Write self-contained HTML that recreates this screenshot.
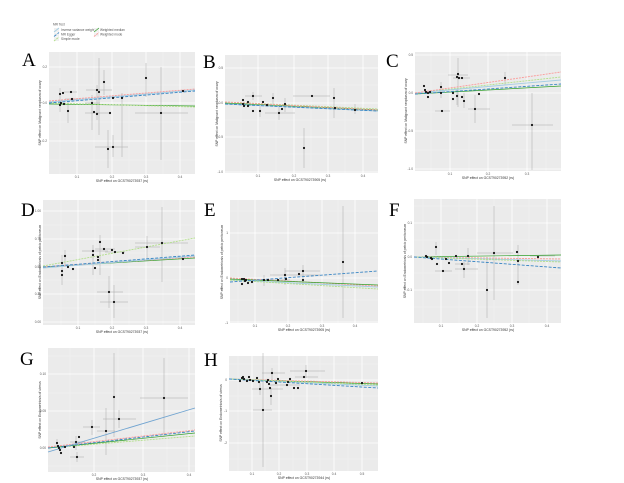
<!DOCTYPE html>
<html><head><meta charset="utf-8"><style>
html,body{margin:0;padding:0;background:#fff;}
svg{display:block;}
.bg{fill:#ebebeb;}
.gM{stroke:#fff;stroke-width:0.8;}
.gm{stroke:#f5f5f5;stroke-width:0.4;}
.eb{stroke:#a8a8a8;stroke-width:0.5;}
.pt{fill:#111;}
.tk{font-family:"Liberation Sans",sans-serif;font-size:3.2px;fill:#555;}
.tt{font-family:"Liberation Sans",sans-serif;font-size:3.4px;fill:#333;}
.lt{font-family:"Liberation Serif",serif;font-size:19px;fill:#000;}
.ivw{stroke:#a6cee3;stroke-width:0.9;fill:none;}
.egg{stroke:#3a86c4;stroke-width:0.9;stroke-dasharray:3,1.5;fill:none;}
.sim{stroke:#b2df8a;stroke-width:0.9;fill:none;stroke-dasharray:2,1;}
.wmed{stroke:#33a02c;stroke-width:0.7;fill:none;}
.wmo{stroke:#fb9a99;stroke-width:0.9;stroke-dasharray:2,1;fill:none;}
</style></head><body>
<svg width="624" height="483" viewBox="0 0 624 483" xmlns="http://www.w3.org/2000/svg">
<rect width="624" height="483" fill="#fff"/>

<!-- Legend -->
<text class="tk" x="53" y="25.5">MR Test</text>
<rect x="54" y="28" width="5" height="4" fill="#f0f0f0"/><line class="ivw" x1="54" y1="32" x2="59" y2="28"/>
<text class="tk" x="61" y="31">Inverse variance weighted</text>
<rect x="54" y="32.5" width="5" height="4" fill="#f0f0f0"/><line class="egg" x1="54" y1="36.5" x2="59" y2="32.5"/>
<text class="tk" x="61" y="35.5">MR Egger</text>
<rect x="54" y="37" width="5" height="4" fill="#f0f0f0"/><line class="sim" x1="54" y1="41" x2="59" y2="37"/>
<text class="tk" x="61" y="40">Simple mode</text>
<rect x="94" y="28" width="5" height="4" fill="#f0f0f0"/><line class="wmed" x1="94" y1="32" x2="99" y2="28"/>
<text class="tk" x="100" y="31">Weighted median</text>
<rect x="94" y="32.5" width="5" height="4" fill="#f0f0f0"/><line class="wmo" x1="94" y1="36.5" x2="99" y2="32.5"/>
<text class="tk" x="100" y="35.5">Weighted mode</text>

<!-- Panel A -->
<text class="lt" x="22" y="66">A</text>
<rect class="bg" x="49" y="52" width="146" height="122"/>
<g class="gm"><line x1="60" y1="52" x2="60" y2="174"/><line x1="94" y1="52" x2="94" y2="174"/><line x1="129" y1="52" x2="129" y2="174"/><line x1="163" y1="52" x2="163" y2="174"/>
<line x1="49" y1="85" x2="195" y2="85"/><line x1="49" y1="122" x2="195" y2="122"/><line x1="49" y1="160" x2="195" y2="160"/></g>
<g class="gM"><line x1="77" y1="52" x2="77" y2="174"/><line x1="112" y1="52" x2="112" y2="174"/><line x1="146" y1="52" x2="146" y2="174"/><line x1="180" y1="52" x2="180" y2="174"/>
<line x1="49" y1="67" x2="195" y2="67"/><line x1="49" y1="103" x2="195" y2="103"/><line x1="49" y1="141" x2="195" y2="141"/></g>
<g class="eb"><line x1="99" y1="58" x2="99" y2="135"/><line x1="104" y1="70" x2="104" y2="95"/><line x1="146" y1="63" x2="146" y2="97"/><line x1="161" y1="67" x2="161" y2="160"/><line x1="108" y1="130" x2="108" y2="168"/><line x1="122" y1="93" x2="122" y2="157"/><line x1="60" y1="88" x2="60" y2="112"/><line x1="68" y1="100" x2="68" y2="123"/><line x1="97" y1="85" x2="97" y2="120"/><line x1="92" y1="95" x2="92" y2="130"/><line x1="113" y1="135" x2="113" y2="157"/>
<line x1="135" y1="113" x2="188" y2="113"/><line x1="86" y1="90" x2="112" y2="90"/><line x1="64" y1="92" x2="77" y2="92"/><line x1="65" y1="99" x2="80" y2="99"/><line x1="95" y1="147" x2="128" y2="147"/><line x1="85" y1="103" x2="100" y2="103"/><line x1="85" y1="113" x2="110" y2="113"/><line x1="178" y1="91" x2="190" y2="91"/></g>
<line class="wmed" x1="49" y1="104" x2="195" y2="106"/><line class="sim" x1="49" y1="103" x2="195" y2="107"/>
<line class="ivw" x1="49" y1="102" x2="195" y2="90"/><line class="egg" x1="49" y1="103" x2="195" y2="91"/><line class="wmo" x1="49" y1="101" x2="195" y2="89"/>
<g class="pt"><circle cx="60" cy="94" r="1.1"/><circle cx="61" cy="103" r="1.1"/><circle cx="60" cy="105" r="1.1"/><circle cx="63" cy="93" r="1.1"/><circle cx="64" cy="104" r="1.1"/><circle cx="71" cy="92" r="1.1"/><circle cx="72" cy="99" r="1.1"/><circle cx="68" cy="111" r="1.1"/><circle cx="92" cy="103" r="1.1"/><circle cx="97" cy="90" r="1.1"/><circle cx="99" cy="92" r="1.1"/><circle cx="104" cy="82" r="1.1"/><circle cx="94" cy="112" r="1.1"/><circle cx="97" cy="114" r="1.1"/><circle cx="110" cy="113" r="1.1"/><circle cx="113" cy="98" r="1.1"/><circle cx="122" cy="98" r="1.1"/><circle cx="146" cy="78" r="1.1"/><circle cx="161" cy="113" r="1.1"/><circle cx="183" cy="91" r="1.1"/><circle cx="108" cy="149" r="1.1"/><circle cx="113" cy="147" r="1.1"/></g>
<text class="tk" x="47" y="68" text-anchor="end">0.2</text><text class="tk" x="47" y="104" text-anchor="end">0.0</text><text class="tk" x="47" y="142" text-anchor="end">-0.2</text>
<text class="tk" x="77" y="178" text-anchor="middle">0.1</text><text class="tk" x="112" y="178" text-anchor="middle">0.2</text><text class="tk" x="146" y="178" text-anchor="middle">0.3</text><text class="tk" x="180" y="178" text-anchor="middle">0.4</text>
<text class="tt" x="122" y="182" text-anchor="middle">SNP effect on GCST90273937 (rs)</text>
<text class="tt" transform="translate(41,113) rotate(-90)" text-anchor="middle">SNP effect on Malignant neoplasm of ovary</text>

<!-- Panel B -->
<text class="lt" x="203" y="68">B</text>
<rect class="bg" x="225" y="55" width="153" height="118"/>
<g class="gm"><line x1="241" y1="55" x2="241" y2="173"/><line x1="276" y1="55" x2="276" y2="173"/><line x1="311" y1="55" x2="311" y2="173"/><line x1="345" y1="55" x2="345" y2="173"/>
<line x1="225" y1="85" x2="378" y2="85"/><line x1="225" y1="120" x2="378" y2="120"/><line x1="225" y1="154" x2="378" y2="154"/></g>
<g class="gM"><line x1="258" y1="55" x2="258" y2="173"/><line x1="294" y1="55" x2="294" y2="173"/><line x1="328" y1="55" x2="328" y2="173"/><line x1="363" y1="55" x2="363" y2="173"/>
<line x1="225" y1="68" x2="378" y2="68"/><line x1="225" y1="103" x2="378" y2="103"/><line x1="225" y1="137" x2="378" y2="137"/><line x1="225" y1="172" x2="378" y2="172"/></g>
<g class="eb"><line x1="304" y1="128" x2="304" y2="168"/><line x1="334" y1="88" x2="334" y2="118"/><line x1="279" y1="105" x2="279" y2="120"/><line x1="253" y1="92" x2="253" y2="100"/><line x1="260" y1="105" x2="260" y2="117"/><line x1="285" y1="98" x2="285" y2="112"/><line x1="273" y1="93" x2="273" y2="104"/><line x1="355" y1="104" x2="355" y2="114"/>
<line x1="293" y1="96" x2="330" y2="96"/><line x1="265" y1="113" x2="295" y2="113"/><line x1="245" y1="96" x2="262" y2="96"/><line x1="325" y1="108" x2="345" y2="108"/></g>
<line class="wmed" x1="225" y1="103" x2="378" y2="110"/><line class="sim" x1="225" y1="102" x2="378" y2="109"/><line class="ivw" x1="225" y1="104" x2="378" y2="111"/><line class="wmo" x1="225" y1="102" x2="378" y2="110"/><line class="egg" x1="225" y1="104" x2="378" y2="111"/>
<g class="pt"><circle cx="243" cy="100" r="1.1"/><circle cx="243" cy="104" r="1.1"/><circle cx="244" cy="106" r="1.1"/><circle cx="248" cy="102" r="1.1"/><circle cx="248" cy="106" r="1.1"/><circle cx="253" cy="96" r="1.1"/><circle cx="253" cy="111" r="1.1"/><circle cx="260" cy="111" r="1.1"/><circle cx="263" cy="102" r="1.1"/><circle cx="267" cy="105" r="1.1"/><circle cx="273" cy="98" r="1.1"/><circle cx="282" cy="109" r="1.1"/><circle cx="279" cy="113" r="1.1"/><circle cx="285" cy="104" r="1.1"/><circle cx="312" cy="96" r="1.1"/><circle cx="334" cy="98" r="1.1"/><circle cx="335" cy="108" r="1.1"/><circle cx="355" cy="110" r="1.1"/><circle cx="304" cy="148" r="1.1"/></g>
<text class="tk" x="223" y="69" text-anchor="end">0.5</text><text class="tk" x="223" y="104" text-anchor="end">0.0</text><text class="tk" x="223" y="138" text-anchor="end">-0.5</text><text class="tk" x="223" y="173" text-anchor="end">-1.0</text>
<text class="tk" x="258" y="177" text-anchor="middle">0.1</text><text class="tk" x="294" y="177" text-anchor="middle">0.2</text><text class="tk" x="328" y="177" text-anchor="middle">0.3</text><text class="tk" x="363" y="177" text-anchor="middle">0.4</text>
<text class="tt" x="300" y="181" text-anchor="middle">SNP effect on GCST90273905 (rs)</text>
<text class="tt" transform="translate(218,114) rotate(-90)" text-anchor="middle">SNP effect on Malignant neoplasm of ovary</text>

<!-- Panel C -->
<text class="lt" x="386" y="67">C</text>
<rect class="bg" x="415" y="52" width="146" height="119"/>
<g class="gm"><line x1="431" y1="52" x2="431" y2="171"/><line x1="469" y1="52" x2="469" y2="171"/><line x1="508" y1="52" x2="508" y2="171"/><line x1="546" y1="52" x2="546" y2="171"/>
<line x1="415" y1="74" x2="561" y2="74"/><line x1="415" y1="112" x2="561" y2="112"/><line x1="415" y1="150" x2="561" y2="150"/></g>
<g class="gM"><line x1="450" y1="52" x2="450" y2="171"/><line x1="488" y1="52" x2="488" y2="171"/><line x1="527" y1="52" x2="527" y2="171"/>
<line x1="415" y1="55" x2="561" y2="55"/><line x1="415" y1="93" x2="561" y2="93"/><line x1="415" y1="131" x2="561" y2="131"/><line x1="415" y1="169" x2="561" y2="169"/></g>
<g class="eb"><line x1="458" y1="58" x2="458" y2="107"/><line x1="475" y1="95" x2="475" y2="123"/><line x1="532" y1="93" x2="532" y2="170"/><line x1="441" y1="82" x2="441" y2="98"/><line x1="505" y1="72" x2="505" y2="85"/><line x1="457" y1="88" x2="457" y2="105"/><line x1="464" y1="93" x2="464" y2="108"/>
<line x1="448" y1="75" x2="468" y2="75"/><line x1="512" y1="125" x2="553" y2="125"/><line x1="468" y1="109" x2="490" y2="109"/><line x1="435" y1="111" x2="450" y2="111"/><line x1="453" y1="78" x2="470" y2="78"/></g>
<line class="sim" x1="415" y1="93" x2="561" y2="77"/><line class="wmed" x1="415" y1="94" x2="561" y2="86"/><line class="ivw" x1="415" y1="93" x2="561" y2="80"/><line class="egg" x1="415" y1="94" x2="561" y2="84"/><line class="wmo" x1="415" y1="93" x2="561" y2="72"/>
<g class="pt"><circle cx="424" cy="86" r="1.1"/><circle cx="425" cy="90" r="1.1"/><circle cx="426" cy="92" r="1.1"/><circle cx="428" cy="93" r="1.1"/><circle cx="428" cy="97" r="1.1"/><circle cx="430" cy="92" r="1.1"/><circle cx="441" cy="93" r="1.1"/><circle cx="441" cy="87" r="1.1"/><circle cx="442" cy="111" r="1.1"/><circle cx="453" cy="93" r="1.1"/><circle cx="453" cy="99" r="1.1"/><circle cx="457" cy="77" r="1.1"/><circle cx="458" cy="74" r="1.1"/><circle cx="459" cy="78" r="1.1"/><circle cx="462" cy="78" r="1.1"/><circle cx="457" cy="96" r="1.1"/><circle cx="462" cy="97" r="1.1"/><circle cx="464" cy="101" r="1.1"/><circle cx="475" cy="109" r="1.1"/><circle cx="479" cy="94" r="1.1"/><circle cx="505" cy="78" r="1.1"/><circle cx="532" cy="125" r="1.1"/></g>
<text class="tk" x="413" y="56" text-anchor="end">0.5</text><text class="tk" x="413" y="94" text-anchor="end">0.0</text><text class="tk" x="413" y="132" text-anchor="end">-0.5</text><text class="tk" x="413" y="170" text-anchor="end">-1.0</text>
<text class="tk" x="450" y="175" text-anchor="middle">0.1</text><text class="tk" x="488" y="175" text-anchor="middle">0.2</text><text class="tk" x="527" y="175" text-anchor="middle">0.3</text>
<text class="tt" x="488" y="179" text-anchor="middle">SNP effect on GCST90273952 (rs)</text>
<text class="tt" transform="translate(407,111) rotate(-90)" text-anchor="middle">SNP effect on Malignant neoplasm of ovary</text>

<!-- Panel D -->
<text class="lt" x="21" y="216">D</text>
<rect class="bg" x="43" y="200" width="152" height="125"/>
<g class="gm"><line x1="61" y1="200" x2="61" y2="325"/><line x1="95" y1="200" x2="95" y2="325"/><line x1="129" y1="200" x2="129" y2="325"/><line x1="163" y1="200" x2="163" y2="325"/>
<line x1="43" y1="225" x2="195" y2="225"/><line x1="43" y1="253" x2="195" y2="253"/><line x1="43" y1="280" x2="195" y2="280"/><line x1="43" y1="308" x2="195" y2="308"/></g>
<g class="gM"><line x1="78" y1="200" x2="78" y2="325"/><line x1="112" y1="200" x2="112" y2="325"/><line x1="146" y1="200" x2="146" y2="325"/><line x1="180" y1="200" x2="180" y2="325"/>
<line x1="43" y1="211" x2="195" y2="211"/><line x1="43" y1="239" x2="195" y2="239"/><line x1="43" y1="267" x2="195" y2="267"/><line x1="43" y1="294" x2="195" y2="294"/><line x1="43" y1="322" x2="195" y2="322"/></g>
<g class="eb"><line x1="162" y1="207" x2="162" y2="282"/><line x1="100" y1="235" x2="100" y2="275"/><line x1="114" y1="285" x2="114" y2="318"/><line x1="109" y1="276" x2="109" y2="308"/><line x1="147" y1="236" x2="147" y2="258"/><line x1="93" y1="245" x2="93" y2="275"/><line x1="62" y1="255" x2="62" y2="285"/><line x1="65" y1="250" x2="65" y2="265"/>
<line x1="135" y1="243" x2="188" y2="243"/><line x1="97" y1="292" x2="123" y2="292"/><line x1="100" y1="302" x2="128" y2="302"/><line x1="82" y1="251" x2="108" y2="251"/><line x1="95" y1="249" x2="115" y2="249"/><line x1="135" y1="247" x2="160" y2="247"/><line x1="105" y1="252" x2="125" y2="252"/></g>
<line class="wmed" x1="43" y1="267" x2="195" y2="258"/><line class="wmo" x1="43" y1="267" x2="195" y2="257"/><line class="ivw" x1="43" y1="268" x2="195" y2="256"/><line class="egg" x1="43" y1="267" x2="195" y2="255"/><line class="sim" x1="43" y1="266" x2="195" y2="238"/>
<g class="pt"><circle cx="62" cy="263" r="1.1"/><circle cx="62" cy="271" r="1.1"/><circle cx="62" cy="275" r="1.1"/><circle cx="65" cy="256" r="1.1"/><circle cx="68" cy="267" r="1.1"/><circle cx="73" cy="269" r="1.1"/><circle cx="93" cy="251" r="1.1"/><circle cx="93" cy="255" r="1.1"/><circle cx="95" cy="268" r="1.1"/><circle cx="98" cy="257" r="1.1"/><circle cx="98" cy="260" r="1.1"/><circle cx="100" cy="242" r="1.1"/><circle cx="104" cy="249" r="1.1"/><circle cx="112" cy="250" r="1.1"/><circle cx="115" cy="252" r="1.1"/><circle cx="123" cy="253" r="1.1"/><circle cx="147" cy="247" r="1.1"/><circle cx="162" cy="243" r="1.1"/><circle cx="183" cy="259" r="1.1"/><circle cx="109" cy="292" r="1.1"/><circle cx="114" cy="302" r="1.1"/></g>
<text class="tk" x="41" y="212" text-anchor="end">1.00</text><text class="tk" x="41" y="240" text-anchor="end">0.75</text><text class="tk" x="41" y="268" text-anchor="end">0.50</text><text class="tk" x="41" y="295" text-anchor="end">0.25</text><text class="tk" x="41" y="323" text-anchor="end">0.00</text>
<text class="tk" x="78" y="329" text-anchor="middle">0.1</text><text class="tk" x="112" y="329" text-anchor="middle">0.2</text><text class="tk" x="146" y="329" text-anchor="middle">0.3</text><text class="tk" x="180" y="329" text-anchor="middle">0.4</text>
<text class="tt" x="122" y="333" text-anchor="middle">SNP effect on GCST90273937 (rs)</text>
<text class="tt" transform="translate(41,262) rotate(-90)" text-anchor="middle">SNP effect on Endometriosis of pelvic peritoneum</text>

<!-- Panel E -->
<text class="lt" x="204" y="216">E</text>
<rect class="bg" x="230" y="200" width="148" height="123"/>
<g class="gm"><line x1="238" y1="200" x2="238" y2="323"/><line x1="272" y1="200" x2="272" y2="323"/><line x1="305" y1="200" x2="305" y2="323"/><line x1="338" y1="200" x2="338" y2="323"/>
<line x1="230" y1="211" x2="378" y2="211"/><line x1="230" y1="256" x2="378" y2="256"/><line x1="230" y1="300" x2="378" y2="300"/></g>
<g class="gM"><line x1="255" y1="200" x2="255" y2="323"/><line x1="288" y1="200" x2="288" y2="323"/><line x1="322" y1="200" x2="322" y2="323"/><line x1="355" y1="200" x2="355" y2="323"/>
<line x1="230" y1="233" x2="378" y2="233"/><line x1="230" y1="278" x2="378" y2="278"/><line x1="230" y1="322" x2="378" y2="322"/></g>
<g class="eb"><line x1="343" y1="206" x2="343" y2="318"/><line x1="285" y1="268" x2="285" y2="285"/><line x1="303" y1="265" x2="303" y2="285"/><line x1="264" y1="275" x2="264" y2="286"/>
<line x1="270" y1="275" x2="320" y2="275"/><line x1="285" y1="271" x2="320" y2="271"/><line x1="255" y1="280" x2="290" y2="280"/></g>
<line class="ivw" x1="230" y1="280" x2="378" y2="287"/><line class="sim" x1="230" y1="280" x2="378" y2="289"/><line class="wmo" x1="230" y1="278" x2="378" y2="286"/><line class="wmed" x1="230" y1="279" x2="378" y2="285"/><line class="egg" x1="230" y1="282" x2="378" y2="271"/>
<g class="pt"><circle cx="242" cy="279" r="1.1"/><circle cx="242" cy="284" r="1.1"/><circle cx="244" cy="279" r="1.1"/><circle cx="245" cy="281" r="1.1"/><circle cx="246" cy="280" r="1.1"/><circle cx="248" cy="283" r="1.1"/><circle cx="252" cy="282" r="1.1"/><circle cx="264" cy="280" r="1.1"/><circle cx="268" cy="280" r="1.1"/><circle cx="278" cy="280" r="1.1"/><circle cx="285" cy="275" r="1.1"/><circle cx="286" cy="279" r="1.1"/><circle cx="299" cy="274" r="1.1"/><circle cx="303" cy="271" r="1.1"/><circle cx="303" cy="280" r="1.1"/><circle cx="343" cy="262" r="1.1"/></g>
<text class="tk" x="228" y="234" text-anchor="end">1</text><text class="tk" x="228" y="279" text-anchor="end">0</text><text class="tk" x="228" y="324" text-anchor="end">-1</text>
<text class="tk" x="255" y="327" text-anchor="middle">0.1</text><text class="tk" x="288" y="327" text-anchor="middle">0.2</text><text class="tk" x="322" y="327" text-anchor="middle">0.3</text><text class="tk" x="355" y="327" text-anchor="middle">0.4</text>
<text class="tt" x="304" y="331" text-anchor="middle">SNP effect on GCST90273905 (rs)</text>
<text class="tt" transform="translate(223,262) rotate(-90)" text-anchor="middle">SNP effect on Endometriosis of pelvic peritoneum</text>

<!-- Panel F -->
<text class="lt" x="389" y="216">F</text>
<rect class="bg" x="414" y="199" width="147" height="124"/>
<g class="gm"><line x1="423" y1="199" x2="423" y2="323"/><line x1="459" y1="199" x2="459" y2="323"/><line x1="494" y1="199" x2="494" y2="323"/><line x1="529" y1="199" x2="529" y2="323"/>
<line x1="414" y1="206" x2="561" y2="206"/><line x1="414" y1="240" x2="561" y2="240"/><line x1="414" y1="273" x2="561" y2="273"/><line x1="414" y1="307" x2="561" y2="307"/></g>
<g class="gM"><line x1="441" y1="199" x2="441" y2="323"/><line x1="477" y1="199" x2="477" y2="323"/><line x1="512" y1="199" x2="512" y2="323"/><line x1="547" y1="199" x2="547" y2="323"/>
<line x1="414" y1="223" x2="561" y2="223"/><line x1="414" y1="257" x2="561" y2="257"/><line x1="414" y1="290" x2="561" y2="290"/></g>
<g class="eb"><line x1="494" y1="206" x2="494" y2="300"/><line x1="487" y1="257" x2="487" y2="318"/><line x1="518" y1="245" x2="518" y2="285"/><line x1="436" y1="242" x2="436" y2="255"/><line x1="464" y1="262" x2="464" y2="278"/><line x1="468" y1="248" x2="468" y2="265"/>
<line x1="477" y1="253" x2="513" y2="253"/><line x1="435" y1="271" x2="452" y2="271"/><line x1="455" y1="269" x2="478" y2="269"/><line x1="530" y1="256" x2="555" y2="256"/><line x1="455" y1="264" x2="470" y2="264"/></g>
<line class="wmed" x1="414" y1="257" x2="561" y2="255"/><line class="wmo" x1="414" y1="257" x2="561" y2="259"/><line class="ivw" x1="414" y1="257" x2="561" y2="261"/><line class="sim" x1="414" y1="257" x2="561" y2="262"/><line class="egg" x1="414" y1="257" x2="561" y2="268"/>
<g class="pt"><circle cx="426" cy="256" r="1.1"/><circle cx="427" cy="257" r="1.1"/><circle cx="431" cy="258" r="1.1"/><circle cx="432" cy="259" r="1.1"/><circle cx="436" cy="247" r="1.1"/><circle cx="437" cy="264" r="1.1"/><circle cx="443" cy="271" r="1.1"/><circle cx="446" cy="259" r="1.1"/><circle cx="449" cy="263" r="1.1"/><circle cx="456" cy="256" r="1.1"/><circle cx="462" cy="264" r="1.1"/><circle cx="464" cy="269" r="1.1"/><circle cx="468" cy="256" r="1.1"/><circle cx="487" cy="290" r="1.1"/><circle cx="494" cy="253" r="1.1"/><circle cx="517" cy="252" r="1.1"/><circle cx="518" cy="261" r="1.1"/><circle cx="518" cy="282" r="1.1"/><circle cx="538" cy="257" r="1.1"/></g>
<text class="tk" x="412" y="224" text-anchor="end">0.1</text><text class="tk" x="412" y="258" text-anchor="end">0.0</text><text class="tk" x="412" y="291" text-anchor="end">-0.1</text>
<text class="tk" x="441" y="327" text-anchor="middle">0.1</text><text class="tk" x="477" y="327" text-anchor="middle">0.2</text><text class="tk" x="512" y="327" text-anchor="middle">0.3</text><text class="tk" x="547" y="327" text-anchor="middle">0.4</text>
<text class="tt" x="488" y="331" text-anchor="middle">SNP effect on GCST90273952 (rs)</text>
<text class="tt" transform="translate(406,261) rotate(-90)" text-anchor="middle">SNP effect on Endometriosis of pelvic peritoneum</text>

<!-- Panel G -->
<text class="lt" x="20" y="365">G</text>
<rect class="bg" x="48" y="348" width="147" height="124"/>
<g class="gm"><line x1="70" y1="348" x2="70" y2="472"/><line x1="118" y1="348" x2="118" y2="472"/><line x1="167" y1="348" x2="167" y2="472"/>
<line x1="48" y1="356" x2="195" y2="356"/><line x1="48" y1="393" x2="195" y2="393"/><line x1="48" y1="430" x2="195" y2="430"/><line x1="48" y1="466" x2="195" y2="466"/></g>
<g class="gM"><line x1="94" y1="348" x2="94" y2="472"/><line x1="143" y1="348" x2="143" y2="472"/><line x1="189" y1="348" x2="189" y2="472"/>
<line x1="48" y1="374" x2="195" y2="374"/><line x1="48" y1="411" x2="195" y2="411"/><line x1="48" y1="448" x2="195" y2="448"/></g>
<g class="eb"><line x1="114" y1="353" x2="114" y2="437"/><line x1="164" y1="358" x2="164" y2="437"/><line x1="106" y1="408" x2="106" y2="455"/><line x1="119" y1="410" x2="119" y2="428"/><line x1="92" y1="420" x2="92" y2="435"/><line x1="76" y1="436" x2="76" y2="450"/><line x1="77" y1="452" x2="77" y2="462"/><line x1="57" y1="439" x2="57" y2="448"/>
<line x1="140" y1="398" x2="188" y2="398"/><line x1="103" y1="419" x2="136" y2="419"/><line x1="83" y1="427" x2="100" y2="427"/><line x1="70" y1="457" x2="84" y2="457"/><line x1="97" y1="431" x2="115" y2="431"/><line x1="70" y1="442" x2="85" y2="442"/></g>
<line class="sim" x1="48" y1="448" x2="195" y2="436"/><line class="wmed" x1="48" y1="448" x2="195" y2="433"/><line class="egg" x1="48" y1="448" x2="195" y2="431"/><line class="wmo" x1="48" y1="447" x2="195" y2="430"/><line x1="48" y1="452" x2="195" y2="408" stroke="#6fa3d0" stroke-width="0.9"/>
<g class="pt"><circle cx="57" cy="443" r="1.1"/><circle cx="58" cy="446" r="1.1"/><circle cx="59" cy="448" r="1.1"/><circle cx="60" cy="450" r="1.1"/><circle cx="61" cy="453" r="1.1"/><circle cx="65" cy="447" r="1.1"/><circle cx="74" cy="447" r="1.1"/><circle cx="76" cy="442" r="1.1"/><circle cx="77" cy="457" r="1.1"/><circle cx="79" cy="437" r="1.1"/><circle cx="92" cy="427" r="1.1"/><circle cx="106" cy="431" r="1.1"/><circle cx="114" cy="397" r="1.1"/><circle cx="119" cy="419" r="1.1"/><circle cx="164" cy="398" r="1.1"/></g>
<text class="tk" x="46" y="375" text-anchor="end">0.10</text><text class="tk" x="46" y="412" text-anchor="end">0.05</text><text class="tk" x="46" y="449" text-anchor="end">0.00</text>
<text class="tk" x="94" y="476" text-anchor="middle">0.2</text><text class="tk" x="143" y="476" text-anchor="middle">0.3</text><text class="tk" x="189" y="476" text-anchor="middle">0.4</text>
<text class="tt" x="122" y="480" text-anchor="middle">SNP effect on GCST90273937 (rs)</text>
<text class="tt" transform="translate(41,410) rotate(-90)" text-anchor="middle">SNP effect on Endometriosis of uterus</text>

<!-- Panel H -->
<text class="lt" x="204" y="366">H</text>
<rect class="bg" x="229" y="356" width="149" height="115"/>
<g class="gm"><line x1="238" y1="356" x2="238" y2="471"/><line x1="265" y1="356" x2="265" y2="471"/><line x1="293" y1="356" x2="293" y2="471"/><line x1="320" y1="356" x2="320" y2="471"/><line x1="348" y1="356" x2="348" y2="471"/>
<line x1="229" y1="364" x2="378" y2="364"/><line x1="229" y1="396" x2="378" y2="396"/><line x1="229" y1="427" x2="378" y2="427"/><line x1="229" y1="459" x2="378" y2="459"/></g>
<g class="gM"><line x1="252" y1="356" x2="252" y2="471"/><line x1="279" y1="356" x2="279" y2="471"/><line x1="307" y1="356" x2="307" y2="471"/><line x1="334" y1="356" x2="334" y2="471"/><line x1="362" y1="356" x2="362" y2="471"/>
<line x1="229" y1="380" x2="378" y2="380"/><line x1="229" y1="411" x2="378" y2="411"/><line x1="229" y1="443" x2="378" y2="443"/></g>
<g class="eb"><line x1="263" y1="353" x2="263" y2="467"/><line x1="306" y1="365" x2="306" y2="378"/><line x1="271" y1="388" x2="271" y2="405"/><line x1="272" y1="368" x2="272" y2="380"/><line x1="260" y1="383" x2="260" y2="395"/>
<line x1="290" y1="371" x2="325" y2="371"/><line x1="253" y1="410" x2="272" y2="410"/><line x1="252" y1="389" x2="283" y2="389"/><line x1="262" y1="373" x2="285" y2="373"/><line x1="270" y1="385" x2="300" y2="385"/><line x1="295" y1="377" x2="318" y2="377"/></g>
<line class="wmed" x1="229" y1="379" x2="378" y2="384"/><line class="wmo" x1="229" y1="379" x2="378" y2="383"/><line class="ivw" x1="229" y1="379" x2="378" y2="386"/><line class="sim" x1="229" y1="379" x2="378" y2="385"/><line class="egg" x1="229" y1="379" x2="378" y2="388"/>
<g class="pt"><circle cx="240" cy="381" r="1.1"/><circle cx="242" cy="378" r="1.1"/><circle cx="243" cy="377" r="1.1"/><circle cx="244" cy="379" r="1.1"/><circle cx="247" cy="381" r="1.1"/><circle cx="249" cy="377" r="1.1"/><circle cx="250" cy="380" r="1.1"/><circle cx="253" cy="381" r="1.1"/><circle cx="257" cy="378" r="1.1"/><circle cx="259" cy="382" r="1.1"/><circle cx="260" cy="389" r="1.1"/><circle cx="263" cy="410" r="1.1"/><circle cx="267" cy="382" r="1.1"/><circle cx="268" cy="380" r="1.1"/><circle cx="269" cy="384" r="1.1"/><circle cx="270" cy="388" r="1.1"/><circle cx="271" cy="396" r="1.1"/><circle cx="272" cy="373" r="1.1"/><circle cx="276" cy="383" r="1.1"/><circle cx="278" cy="379" r="1.1"/><circle cx="287" cy="385" r="1.1"/><circle cx="288" cy="382" r="1.1"/><circle cx="290" cy="379" r="1.1"/><circle cx="294" cy="388" r="1.1"/><circle cx="298" cy="388" r="1.1"/><circle cx="304" cy="377" r="1.1"/><circle cx="306" cy="371" r="1.1"/><circle cx="362" cy="383" r="1.1"/></g>
<text class="tk" x="227" y="381" text-anchor="end">0</text><text class="tk" x="227" y="412" text-anchor="end">-1</text><text class="tk" x="227" y="444" text-anchor="end">-2</text>
<text class="tk" x="252" y="475" text-anchor="middle">0.1</text><text class="tk" x="279" y="475" text-anchor="middle">0.2</text><text class="tk" x="307" y="475" text-anchor="middle">0.3</text><text class="tk" x="334" y="475" text-anchor="middle">0.4</text><text class="tk" x="362" y="475" text-anchor="middle">0.5</text>
<text class="tt" x="304" y="479" text-anchor="middle">SNP effect on GCST90273944 (rs)</text>
<text class="tt" transform="translate(222,413) rotate(-90)" text-anchor="middle">SNP effect on Endometriosis of uterus</text>
</svg>
</body></html>
